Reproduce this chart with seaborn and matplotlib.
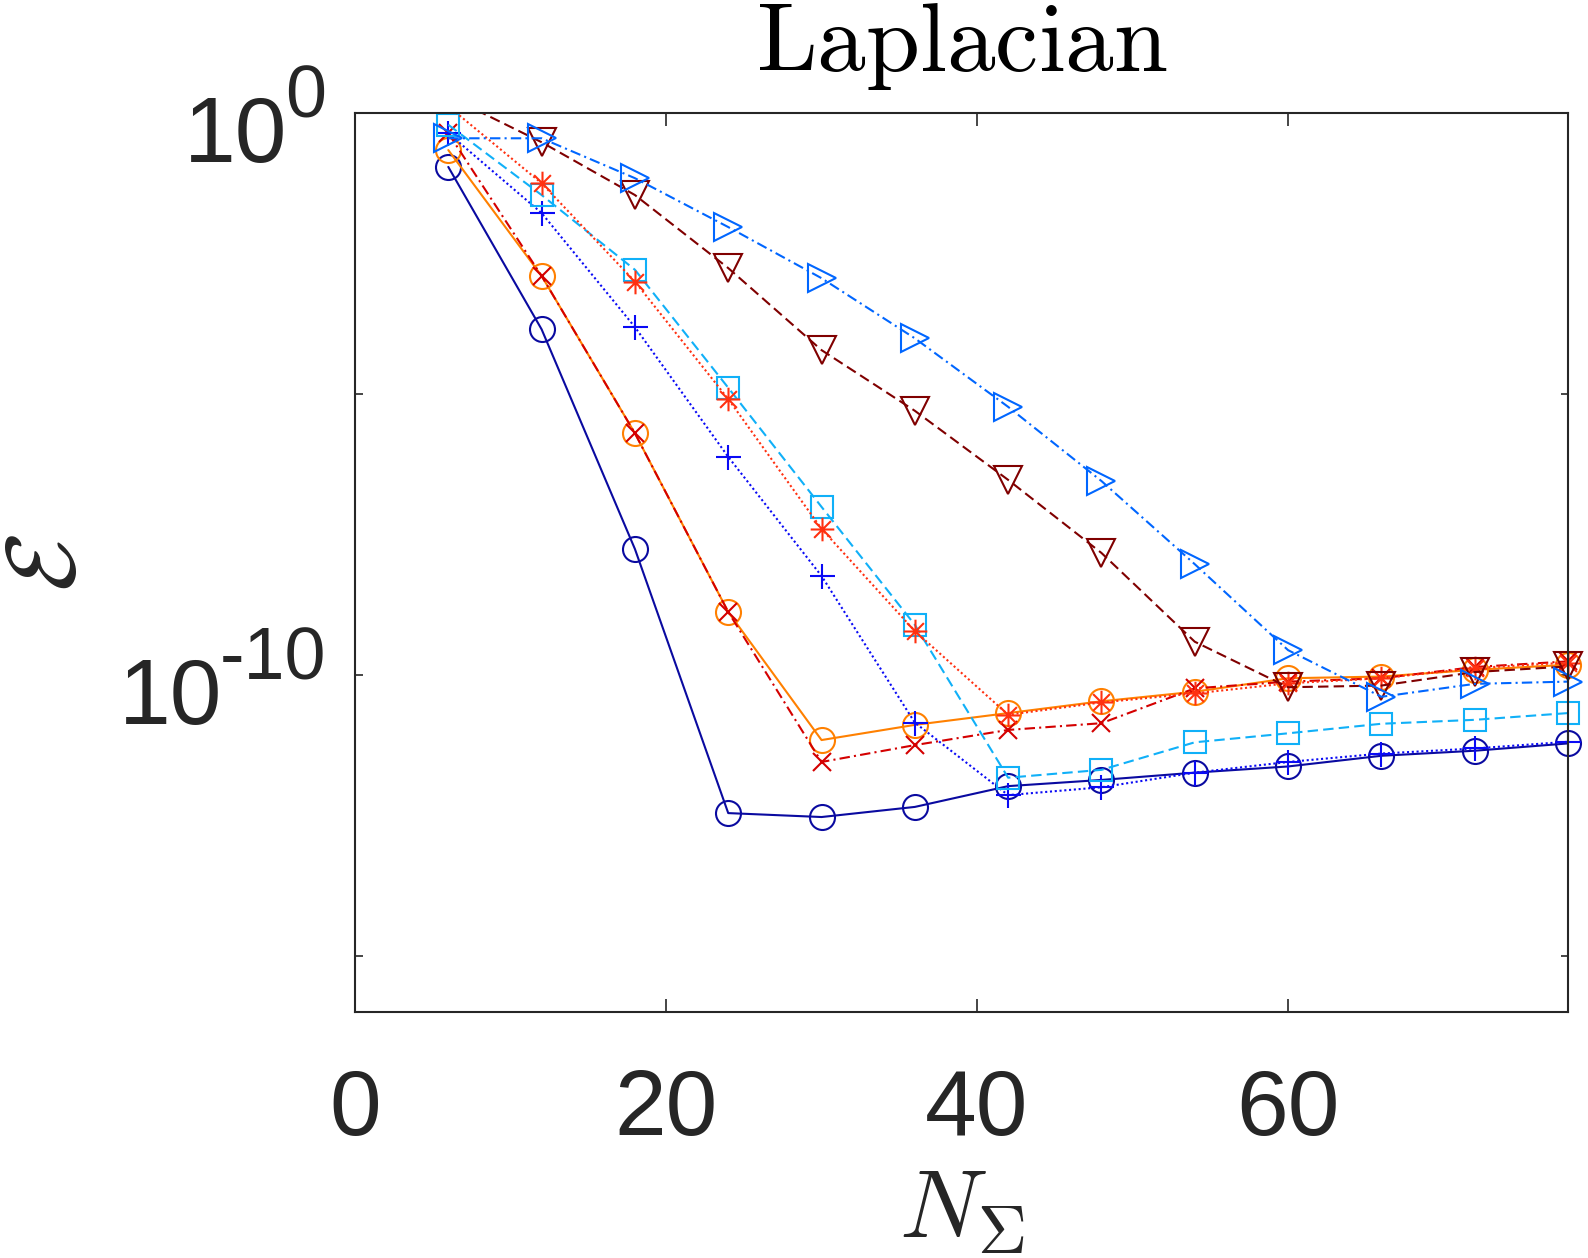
import numpy as np
import pandas as pd
import matplotlib
matplotlib.use('Agg')
import matplotlib.pyplot as plt
from matplotlib.path import Path
import seaborn as sns

# number of modes on the x axis
n_sigma = [6, 12, 18, 24, 30, 36, 42, 48, 54, 60, 66, 72, 78]

# log10 of the error for each curve
log_err_navy = [-0.96, -3.85, -7.76, -12.46, -12.53, -12.35, -11.98, -11.87, -11.74, -11.63, -11.44, -11.35, -11.22]
log_err_orange = [-0.66, -2.90, -5.70, -8.88, -11.16, -10.89, -10.68, -10.47, -10.30, -10.06, -10.03, -9.91, -9.82]
log_err_red_x = [-0.36, -2.90, -5.70, -8.88, -11.55, -11.25, -10.98, -10.86, -10.24, -10.12, -10.06, -9.86, -9.76]
log_err_blue_plus = [-0.36, -1.78, -3.81, -6.12, -8.24, -10.85, -12.14, -12.00, -11.74, -11.55, -11.40, -11.31, -11.19]
log_err_cyan_sq = [-0.21, -1.46, -2.79, -4.89, -7.01, -9.11, -11.83, -11.69, -11.20, -11.04, -10.87, -10.80, -10.68]
log_err_red_star = [0.12, -1.25, -3.00, -5.09, -7.40, -9.22, -10.71, -10.49, -10.33, -10.15, -10.06, -9.88, -9.78]
log_err_darkred_v = [0.30, -0.52, -1.46, -2.76, -4.22, -5.30, -6.53, -7.83, -9.41, -10.22, -10.19, -9.95, -9.85]
log_err_blue_tri = [-0.45, -0.45, -1.16, -2.03, -2.94, -4.01, -5.23, -6.55, -8.03, -9.56, -10.39, -10.16, -10.12]

# MATLAB style asterisk (+ and x on top of each other)
asterisk = Path([(-1, 0), (1, 0), (0, -1), (0, 1),
                 (-0.71, -0.71), (0.71, 0.71), (-0.71, 0.71), (0.71, -0.71)],
                [Path.MOVETO, Path.LINETO] * 4)

dotted = (0, (1, 1.3))
dashed = (0, (5, 2.5))
dashdot = (0, (5, 2, 1, 2))

# values, color, marker, linestyle, marker size
curves = [
    (log_err_navy, '#0a0aa0', 'o', '-', 18),
    (log_err_orange, '#ff8000', 'o', '-', 18),
    (log_err_red_x, '#d40000', 'x', dashdot, 13),
    (log_err_blue_plus, '#0a0af5', '+', dotted, 18),
    (log_err_cyan_sq, '#10b0f8', 's', dashed, 16),
    (log_err_red_star, '#ff3010', asterisk, dotted, 17),
    (log_err_darkred_v, '#800000', 'v', dashed, 20),
    (log_err_blue_tri, '#0066ff', '>', dashdot, 20),
]

sns.set_theme(style='ticks')
plt.rcParams['font.family'] = ['Liberation Sans', 'DejaVu Sans']
plt.rcParams['axes.edgecolor'] = '#262626'
plt.rcParams['axes.linewidth'] = 1.5

fig = plt.figure(figsize=(15.88, 12.58), dpi=100)
ax = fig.add_axes([355 / 1588, 1 - 1012 / 1258, 1213 / 1588, 899 / 1258])
ax.set_yscale('log')

for vals, col, mk, ls, ms in curves:
    df = pd.DataFrame({'N': n_sigma, 'err': 10.0 ** np.array(vals)})
    # line, clipped to the axes
    sns.lineplot(data=df, x='N', y='err', ax=ax, color=col, linestyle=ls,
                 lw=1.5, errorbar=None)
    # markers, only the ones inside the y range, not clipped at the box
    inside = df[df['err'] <= 1.0]
    sns.lineplot(data=inside, x='N', y='err', ax=ax, color=col, marker=mk,
                 linestyle='none', markersize=ms, markerfacecolor='none',
                 markeredgecolor=col, markeredgewidth=1.5, errorbar=None,
                 clip_on=False)

ax.set_xlim(0, 78)
ax.set_ylim(1e-16, 1e0)
ax.set_xticks([0, 20, 40, 60])
ax.set_xticklabels(['0', '20', '40', '60'])
ax.set_yticks([1e-15, 1e-10, 1e-5, 1e0])
ax.yaxis.set_minor_locator(matplotlib.ticker.NullLocator())
ax.set_yticklabels(['', '', '', ''])
ax.tick_params(axis='x', which='major', direction='in', length=9.4, width=1.2,
               top=True, bottom=True, pad=40, labelsize=67, colors='#262626')
ax.tick_params(axis='y', which='major', direction='in', length=5.4, width=1.2,
               left=True, right=True, colors='#262626')
for s in ax.spines.values():
    s.set_visible(True)
    s.set_color('#262626')
    s.set_zorder(5)

ax.set_title(r'$\mathrm{Laplacian}$', math_fontfamily='cm', fontsize=70,
             color='black', y=1.038, va='baseline')
ax.set_xlabel(r'$N_\Sigma$', math_fontfamily='cm', fontsize=70, color='#262626')
ax.xaxis.set_label_coords(0.5, -0.173)
ax.set_ylabel(r'$\mathcal{E}$', math_fontfamily='cm', fontsize=70, color='#262626')
ax.yaxis.set_label_coords(-0.214, 0.5)

# y tick labels with a large MATLAB-like exponent
fig.canvas.draw()
renderer = fig.canvas.get_renderer()
for val, exp in zip([1e0, 1e-10], ['0', '-10']):
    t_exp = ax.annotate(exp, xy=(0, val), xycoords=('axes fraction', 'data'),
                        xytext=(-21, -3.2), textcoords='offset points',
                        ha='right', va='baseline', fontsize=53, color='#262626',
                        annotation_clip=False)
    w = t_exp.get_window_extent(renderer).width * 72 / fig.dpi
    ax.annotate('10', xy=(0, val), xycoords=('axes fraction', 'data'),
                xytext=(-21 - w + 2, -35.3), textcoords='offset points',
                ha='right', va='baseline', fontsize=67, color='#262626',
                annotation_clip=False)

fig.savefig('out.png', dpi=100)
